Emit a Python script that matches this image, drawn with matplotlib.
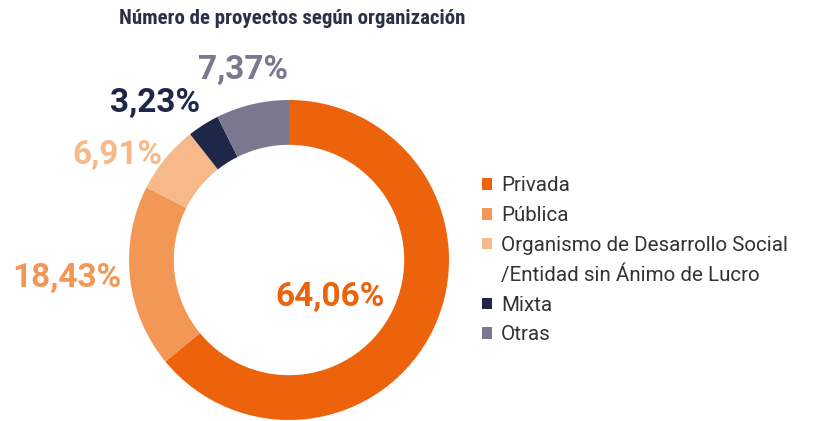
import matplotlib
matplotlib.use("Agg")
import matplotlib.pyplot as plt
from matplotlib.patches import Patch
from matplotlib import font_manager

# datos
categorias = ["Privada", "Pública", "Organismo de Desarrollo Social\n/Entidad sin Ánimo de Lucro", "Mixta", "Otras"]
valores = [64.06, 18.43, 6.91, 3.23, 7.37]
colores = ["#EC630C", "#F29756", "#F7B98A", "#1F2748", "#7B778F"]
etiquetas = ["64,06%", "18,43%", "6,91%", "3,23%", "7,37%"]

W, H = 821, 421
fig = plt.figure(figsize=(W / 100, H / 100), dpi=100)
ax = fig.add_axes([0, 0, 1, 1])

cx, cy, r = 289, H - 260, 160
wedges, _ = ax.pie(valores, colors=colores, startangle=90, counterclock=False,
                   center=(cx, cy), radius=r,
                   wedgeprops=dict(width=r * 0.28, linewidth=0))
ax.set_xlim(0, W)
ax.set_ylim(0, H)
ax.set_aspect("equal")
ax.axis("off")

# posiciones de las etiquetas (px)
pos_etiq = [(330, 297), (67, 278), (117, 155), (155, 103), (243, 70)]
for (x, y), txt, col in zip(pos_etiq, etiquetas, colores):
    ax.text(x, H - y, txt, color=col, fontsize=24, fontweight="bold",
            family=["Roboto", "DejaVu Sans"], ha="center", va="center")

# titulo: fuente estrecha si la hay
nombres = {f.name for f in font_manager.fontManager.ttflist}
if "Roboto Condensed" in nombres:
    fam_tit, tam_tit = "Roboto Condensed", 15
elif "Liberation Sans Narrow" in nombres:
    fam_tit, tam_tit = "Liberation Sans Narrow", 15
else:
    fam_tit, tam_tit = "Roboto", 13.2
fig.text(292 / W, 1 - 18 / H, "Número de proyectos según organización",
         fontsize=tam_tit, fontweight="bold", color="#2A2F4A",
         family=fam_tit, ha="center", va="center")

# leyenda: una fila por linea, el cuadro solo en la primera
handles, labels = [], []
for w, cat in zip(wedges, categorias):
    for i, linea in enumerate(cat.split("\n")):
        if i == 0:
            handles.append(w)
        else:
            handles.append(Patch(facecolor="none", edgecolor="none"))
        labels.append(linea)

leg = fig.legend(handles, labels, loc="upper left",
                 bbox_to_anchor=(482 / W, 1 - 176.5 / H), frameon=False,
                 borderpad=0, borderaxespad=0, handlelength=0.48, handleheight=0.48,
                 handletextpad=0.45, labelspacing=0.52,
                 prop=dict(family="Roboto", size=14.8))
for t in leg.get_texts():
    t.set_color("#333333")

fig.savefig("out.png", dpi=100)
